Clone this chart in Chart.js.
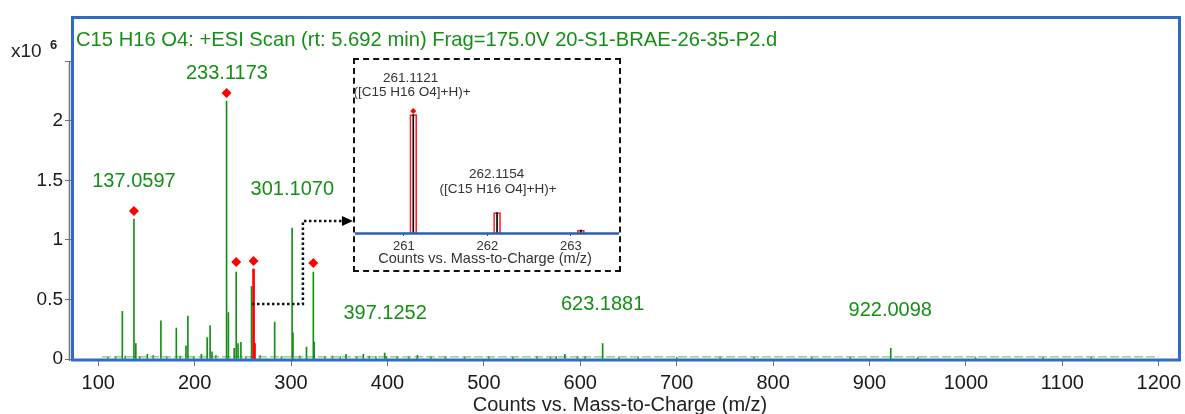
<!DOCTYPE html>
<html lang="en">
<head>
<meta charset="UTF-8">
<title>C15 H16 O4 +ESI Scan</title>
<script src="https://cdn.jsdelivr.net/npm/chart.js"></script>
<style>
  html, body { margin: 0; padding: 0; background: #fff; }
  #wrap { position: relative; width: 1185px; height: 414px; }
  #inset { position: absolute; left: 353px; top: 58px; width: 264px; height: 210px;
           border: 2px dashed #111; background: #fff; }
</style>
</head>
<body>
<div id="wrap">
  <canvas id="spectrum" width="1185" height="414"></canvas>
  <div id="inset"><canvas id="zoomed" width="264" height="210"></canvas></div>
</div>
<script>
// --- main spectrum, counts in units of 10^6 ---
const peakMz = [125, 137.0597, 139, 151, 165, 181, 191, 193, 207, 213, 216, 218,
  233.1173, 235, 241, 243.1, 245, 248, 259, 283, 301.107, 302, 316, 323.1, 324,
  357, 375, 397.1252, 399, 431, 575, 584, 623.1881, 922.0098];
const peakCounts = [0.40, 1.176, 0.13, 0.04, 0.32, 0.26, 0.11, 0.36, 0.04, 0.18, 0.28, 0.06,
  2.168, 0.39, 0.09, 0.731, 0.13, 0.14, 0.61, 0.31, 1.10, 0.22, 0.10, 0.731, 0.14,
  0.04, 0.04, 0.05, 0.02, 0.03, 0.02, 0.04, 0.13, 0.09];
const noiseMz = [110, 118, 128, 143, 157, 171, 185, 199, 222, 253, 268, 290, 309, 335,
  343, 351, 368, 381, 388, 410, 422, 445, 460, 480, 505, 530, 555, 569, 597, 605,
  640, 660, 700, 745, 780, 840, 880, 950, 1010, 1080, 1130];
const noiseCounts = [0.015, 0.02, 0.025, 0.02, 0.03, 0.02, 0.025, 0.02, 0.03, 0.02, 0.03,
  0.02, 0.025, 0.02, 0.025, 0.02, 0.02, 0.025, 0.02, 0.02, 0.02, 0.02, 0.02, 0.015,
  0.02, 0.015, 0.02, 0.015, 0.02, 0.02, 0.015, 0.015, 0.015, 0.015, 0.015, 0.015,
  0.015, 0.015, 0.015, 0.015, 0.015];
const isoMz = [261.1121, 262.1154];
const isoCounts = [0.756, 0.13];
const markMz = [137.0597, 233.1173, 243.1, 261.1121, 323.1];
const markCounts = [1.244, 2.235, 0.815, 0.824, 0.807];
const baseMz = [104, 1200];
const baseCounts = [0.018, 0.018];
const labelText = ['137.0597', '233.1173', '301.1070', '397.1252', '623.1881', '922.0098'];
const labelMz = [137.06, 233.5, 301.3, 397.6, 623.19, 921.5];
const labelCounts = [1.445, 2.353, 1.378, 0.336, 0.41, 0.36];
const arrowMz = [259.5, 312.3, 312.3, 353.8];
const arrowCounts = [0.462, 0.462, 1.16, 1.16];
const xTicks = [100, 200, 300, 400, 500, 600, 700, 800, 900, 1000, 1100, 1200];
const yTicks = [0, 0.5, 1, 1.5, 2, 2.5];
const titleText = 'C15 H16 O4: +ESI Scan (rt: 5.692 min) Frag=175.0V 20-S1-BRAE-26-35-P2.d';
const axisTitle = 'Counts vs. Mass-to-Charge (m/z)';

// --- inset, zoomed on the isotope cluster ---
const zoomMz = [261.1121, 262.1154, 263.12];
const zoomCounts = [0.756, 0.13, 0.018];
const zoomBoxCounts = [0.756, 0.13, 0.018];
const zoomMarkMz = [261.1121];
const zoomMarkCounts = [0.78];
const zoomTicks = [261, 262, 263];
const zoomLabelMz = [261.08, 262.11];
const zoomLabelCounts = [0.968, 0.35];
const zoomLabelLines = [['261.1121', '([C15 H16 O4]+H)+'], ['262.1154', '([C15 H16 O4]+H)+']];

const FONT = '"Liberation Sans", Arial, sans-serif';
const GREEN = '#168f16';
const pts = (xs, ys) => xs.map((v, i) => ({ x: v, y: ys[i] }));
const noSidePad = s => { s.paddingLeft = 0; s.paddingRight = 0; s.paddingTop = 0; s.paddingBottom = 0; };

const spectrumDecor = {
  id: 'spectrumDecor',
  afterDraw(chart) {
    const { ctx, chartArea: a, scales: { x, y } } = chart;
    ctx.save();
    // grey axis rule left of the frame
    ctx.strokeStyle = '#707070';
    ctx.lineWidth = 1.5;
    ctx.beginPath();
    ctx.moveTo(69.5, y.getPixelForValue(2.5));
    ctx.lineTo(69.5, a.bottom + 2);
    ctx.stroke();
    // blue frame
    ctx.strokeStyle = '#2f6cc6';
    ctx.lineWidth = 3;
    ctx.strokeRect(a.left + 0.5, a.top + 1.5, a.right - a.left - 1, a.bottom - a.top - 0.5);
    // title
    ctx.fillStyle = GREEN;
    ctx.font = '20.2px ' + FONT;
    ctx.textBaseline = 'alphabetic';
    ctx.textAlign = 'left';
    ctx.fillText(titleText, 76, 46);
    // peak labels
    ctx.font = '20px ' + FONT;
    ctx.textAlign = 'center';
    labelText.forEach((t, i) => {
      ctx.fillText(t, x.getPixelForValue(labelMz[i]), y.getPixelForValue(labelCounts[i]));
    });
    // x10^6
    ctx.fillStyle = '#222';
    ctx.textAlign = 'left';
    ctx.font = '19px ' + FONT;
    ctx.fillText('x10', 11, 57);
    ctx.font = 'bold 13px ' + FONT;
    ctx.fillText('6', 50, 49);
    // x axis title
    ctx.font = '20px ' + FONT;
    ctx.textAlign = 'center';
    ctx.fillText(axisTitle, 620, 411);
    // dotted leader to the inset
    ctx.strokeStyle = '#111';
    ctx.lineWidth = 2.5;
    ctx.setLineDash([2.5, 2.5]);
    ctx.beginPath();
    arrowMz.forEach((m, i) => {
      const px = x.getPixelForValue(m), py = y.getPixelForValue(arrowCounts[i]);
      if (i === 0) ctx.moveTo(px, py); else ctx.lineTo(px, py);
    });
    ctx.stroke();
    ctx.setLineDash([]);
    const tx = x.getPixelForValue(arrowMz[3]), ty = y.getPixelForValue(arrowCounts[3]);
    ctx.fillStyle = '#000';
    ctx.beginPath();
    ctx.moveTo(tx - 1, ty - 5);
    ctx.lineTo(tx + 10, ty);
    ctx.lineTo(tx - 1, ty + 5);
    ctx.closePath();
    ctx.fill();
    ctx.restore();
  }
};

new Chart(document.getElementById('spectrum'), {
  type: 'bar',
  data: {
    datasets: [
      { type: 'line', data: pts(baseMz, baseCounts), borderColor: '#5cb85c', borderWidth: 1,
        borderDash: [9, 3], pointRadius: 0, order: 5 },
      { data: pts(noiseMz, noiseCounts), backgroundColor: '#3aa53a', barThickness: 1, grouped: false, order: 4 },
      { data: pts(peakMz, peakCounts), backgroundColor: GREEN, barThickness: 1, grouped: false, order: 3 },
      { data: pts(isoMz, isoCounts), backgroundColor: '#ff0000', barThickness: 2, grouped: false, order: 2 },
      { type: 'scatter', data: pts(markMz, markCounts), pointStyle: 'rectRot', pointRadius: 5,
        backgroundColor: '#ff0000', borderColor: '#ff0000', borderWidth: 0, order: 1 }
    ]
  },
  options: {
    responsive: false,
    animation: false,
    layout: { padding: { top: 16, right: 2, left: 0, bottom: 0 } },
    plugins: { legend: { display: false }, tooltip: { enabled: false } },
    scales: {
      x: {
        type: 'linear', min: 72.8, max: 1222, offset: false,
        afterFit: s => { s.height = 55; noSidePad(s); },
        afterBuildTicks: s => { s.ticks = xTicks.map(v => ({ value: v })); },
        grid: { offset: false, drawOnChartArea: false, drawTicks: true, tickLength: 7, color: '#707070' },
        border: { display: false },
        ticks: { font: { family: FONT, size: 20 }, color: '#1a1a1a', padding: 5, maxRotation: 0,
                 callback: v => String(v) }
      },
      y: {
        min: 0, max: 2.882,
        afterFit: s => { s.width = 72; noSidePad(s); },
        afterBuildTicks: s => { s.ticks = yTicks.map(v => ({ value: v })); },
        grid: { drawOnChartArea: false, drawTicks: true, tickLength: 7, color: '#707070' },
        border: { display: false },
        ticks: { font: { family: FONT, size: 19 }, color: '#1a1a1a', padding: 2,
                 callback: v => (v === 2.5 ? '' : String(v)) }
      }
    }
  },
  plugins: [spectrumDecor]
});

const zoomDecor = {
  id: 'zoomDecor',
  afterDraw(chart) {
    const { ctx, chartArea: a, scales: { x, y } } = chart;
    ctx.save();
    ctx.strokeStyle = '#2b5fb3';
    ctx.lineWidth = 2.5;
    ctx.beginPath();
    ctx.moveTo(0, a.bottom + 0.5);
    ctx.lineTo(chart.width, a.bottom + 0.5);
    ctx.stroke();
    ctx.fillStyle = '#333';
    ctx.textAlign = 'center';
    ctx.textBaseline = 'alphabetic';
    ctx.font = '13.5px ' + FONT;
    zoomLabelLines.forEach((lines, i) => {
      const px = x.getPixelForValue(zoomLabelMz[i]), py = y.getPixelForValue(zoomLabelCounts[i]);
      lines.forEach((t, k) => ctx.fillText(t, px + k * 1.5, py + k * 14.7));
    });
    ctx.font = '14.5px ' + FONT;
    ctx.fillText(axisTitle, 130, 203);
    ctx.restore();
  }
};

new Chart(document.getElementById('zoomed'), {
  type: 'bar',
  data: {
    datasets: [
      { data: pts(zoomMz, zoomCounts), backgroundColor: '#000', barThickness: 1, grouped: false, order: 1 },
      { data: pts(zoomMz, zoomBoxCounts), backgroundColor: 'rgba(0,0,0,0)', borderColor: '#ff2020',
        borderWidth: 1, barThickness: 7, grouped: false, order: 2 },
      { type: 'scatter', data: pts(zoomMarkMz, zoomMarkCounts), pointStyle: 'rectRot', pointRadius: 3,
        backgroundColor: '#ff0000', borderWidth: 0, order: 0 }
    ]
  },
  options: {
    responsive: false,
    animation: false,
    layout: { padding: 0 },
    plugins: { legend: { display: false }, tooltip: { enabled: false } },
    scales: {
      x: {
        type: 'linear', min: 260.462, max: 263.528, offset: false,
        afterFit: s => { s.height = 37; noSidePad(s); },
        afterBuildTicks: s => { s.ticks = zoomTicks.map(v => ({ value: v })); },
        grid: { offset: false, drawOnChartArea: false, drawTicks: true, tickLength: 3, color: '#444' },
        border: { display: false },
        ticks: { font: { family: FONT, size: 13 }, color: '#333', padding: 3, maxRotation: 0 }
      },
      y: { display: false, min: 0, max: 1.08 }
    }
  },
  plugins: [zoomDecor]
});
</script>
</body>
</html>
